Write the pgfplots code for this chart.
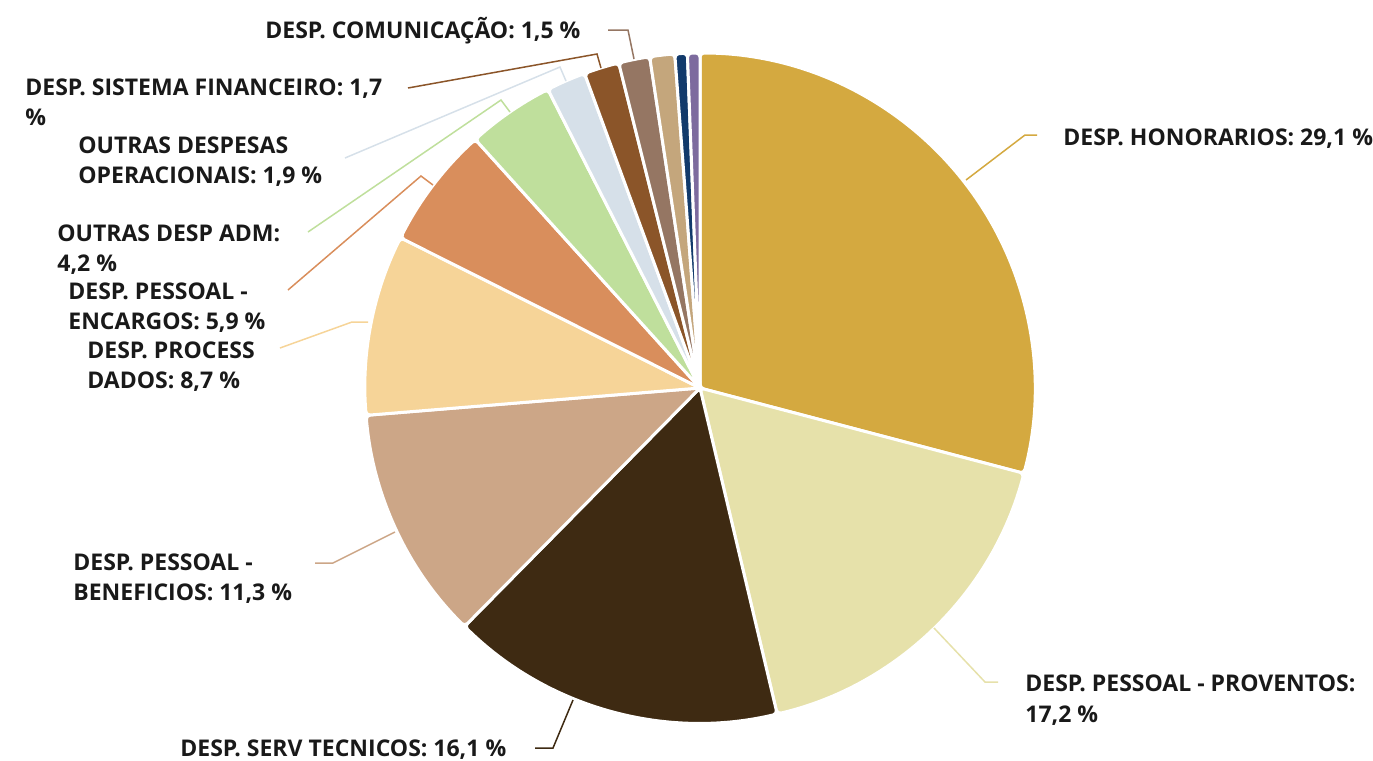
\documentclass[border=0pt]{standalone}
\usepackage{pgfplots}
\usepackage{pgfplotstable}
\pgfplotsset{compat=1.18}
\usepackage{fontspec}
\setmainfont{Open Sans}
\definecolor{c1}{HTML}{D4A940}
\definecolor{c2}{HTML}{E6E1AA}
\definecolor{c3}{HTML}{3E2A12}
\definecolor{c4}{HTML}{CCA687}
\definecolor{c5}{HTML}{F6D498}
\definecolor{c6}{HTML}{D98E5C}
\definecolor{c7}{HTML}{BFDF9C}
\definecolor{c8}{HTML}{D6E0E9}
\definecolor{c9}{HTML}{8B5529}
\definecolor{c10}{HTML}{957663}
\definecolor{c11}{HTML}{C4A67C}
\definecolor{c12}{HTML}{123A6B}
\definecolor{c13}{HTML}{7D6B9E}
\pgfplotstableread[col sep=comma]{
pct,col
29.1,c1
17.2,c2
16.1,c3
11.3,c4
8.7,c5
5.9,c6
4.2,c7
1.9,c8
1.7,c9
1.5,c10
1.2,c11
0.6,c12
0.6,c13
}\piedata
\begin{document}
\begin{tikzpicture}
\begin{axis}[scale only axis, width=686.5pt, height=380.5pt,
  xmin=0, xmax=1373, ymin=0, ymax=761, y dir=reverse,
  hide axis, clip=false]
\path (axis cs:0,0) rectangle (axis cs:1373,761);
\def\cum{0}
\pgfplotsforeachungrouped \i in {0,...,12}{
  \pgfplotstablegetelem{\i}{pct}\of\piedata \let\pv\pgfplotsretval
  \pgfplotstablegetelem{\i}{col}\of\piedata \let\cv\pgfplotsretval
  \pgfmathsetmacro{\angA}{90-3.6*\cum}
  \pgfmathsetmacro{\angB}{90-3.6*(\cum+\pv)}
  \edef\temp{\noexpand\filldraw[fill=\cv, draw=white, line width=1.5pt, rounded corners=2pt, line join=round] (axis cs:700,388) -- ++(\angA:167.5pt) arc[start angle=\angA, end angle=\angB, radius=167.5pt] -- cycle;}
  \temp
  \pgfmathsetmacro{\cum}{\cum+\pv}
}
% leader lines
\draw[c1, line width=0.75pt] (axis cs:966,180) -- (axis cs:1025,135) -- (axis cs:1037,135);
\draw[c2, line width=0.75pt] (axis cs:934,628) -- (axis cs:985,682) -- (axis cs:998,682);
\draw[c3, line width=0.75pt] (axis cs:573,700) -- (axis cs:553,748) -- (axis cs:535,748);
\draw[c4, line width=0.75pt] (axis cs:395,532) -- (axis cs:333,563) -- (axis cs:315,563);
\draw[c5, line width=0.75pt] (axis cs:368,322) -- (axis cs:352,322) -- (axis cs:280,348);
\draw[c6, line width=0.75pt] (axis cs:433,185) -- (axis cs:421,176) -- (axis cs:288,290);
\draw[c7, line width=0.75pt] (axis cs:510,112) -- (axis cs:501,100) -- (axis cs:308,232);
\draw[c8, line width=0.75pt] (axis cs:566,81) -- (axis cs:560,67) -- (axis cs:345,158);
\draw[c9, line width=0.75pt] (axis cs:601,68) -- (axis cs:597,54) -- (axis cs:408,88);
\draw[c10, line width=0.75pt] (axis cs:634,59) -- (axis cs:628,30) -- (axis cs:608,30);
% labels
\tikzset{lab/.style={anchor=base west, inner sep=0pt, font=\fontsize{11.5}{15}\selectfont\bfseries, text=black!90}}
\node[lab] at (axis cs:1063,145) {DESP. HONORARIOS: 29,1 \%};
\node[lab] at (axis cs:1025,691) {DESP. PESSOAL - PROVENTOS:};
\node[lab] at (axis cs:1025,722) {17,2 \%};
\node[lab] at (axis cs:180,756) {DESP. SERV TECNICOS: 16,1 \%};
\node[lab] at (axis cs:73,570) {DESP. PESSOAL -};
\node[lab] at (axis cs:73,600) {BENEFICIOS: 11,3 \%};
\node[lab] at (axis cs:87,358) {DESP. PROCESS};
\node[lab] at (axis cs:87,388) {DADOS: 8,7 \%};
\node[lab] at (axis cs:68,299) {DESP. PESSOAL -};
\node[lab] at (axis cs:68,329) {ENCARGOS: 5,9 \%};
\node[lab] at (axis cs:57,241) {OUTRAS DESP ADM:};
\node[lab] at (axis cs:57,271) {4,2 \%};
\node[lab] at (axis cs:78,153) {OUTRAS DESPESAS};
\node[lab] at (axis cs:78,183) {OPERACIONAIS: 1,9 \%};
\node[lab] at (axis cs:25,95) {DESP. SISTEMA FINANCEIRO: 1,7};
\node[lab] at (axis cs:25,125) {\%};
\node[lab] at (axis cs:265,38) {DESP. COMUNICAÇÃO: 1,5 \%};
\end{axis}
\end{tikzpicture}
\end{document}
